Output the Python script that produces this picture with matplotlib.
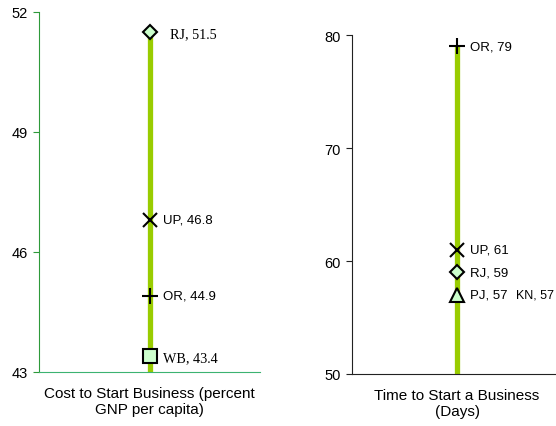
import matplotlib
matplotlib.use("Agg")
import matplotlib.pyplot as plt

# Cost to start a business (percent of GNP per capita)
cost_states = ["RJ", "UP", "OR", "WB"]
cost_values = [51.5, 46.8, 44.9, 43.4]
cost_markers = ["D", "x", "+", "s"]
cost_fonts = ["serif", "sans", "sans", "serif"]
cost_ticks = [43, 46, 49, 52]

# Time to start a business (days)
time_states = ["OR", "UP", "RJ", "PJ"]
time_values = [79, 61, 59, 57]
time_markers = ["+", "x", "D", "^"]
time_extra_state = "KN"
time_extra_value = 57
time_ticks = [50, 60, 70, 80]

SANS = "Liberation Sans"
SERIF = "Liberation Serif"
BAR = "#99cc00"
FACE = "#ccffcc"

# horizontal gap (points) between a marker and its serif label
SERIF_GAP = {"D": 15, "s": 9.5}
MARKER_SIZE = {"D": 7, "s": 10, "^": 10, "x": 10, "+": 11}

fig = plt.figure(figsize=(5.56, 4.27), dpi=100)


def draw_panel(ax, states, values, markers, fonts, ymin, ticks, label, axis_colors):
    ax.set_xlim(-1, 1)
    ax.set_ylim(ymin, ticks[-1])
    top = max(values)
    ax.plot([0, 0], [ymin, top], color=BAR, lw=3.8, solid_capstyle="butt", zorder=2)
    for st, v, m, f in zip(states, values, markers, fonts):
        size = MARKER_SIZE[m]
        if m in ("x", "+"):
            ax.plot([0], [v], marker=m, color="black", ms=size, mew=1.5, zorder=4,
                    clip_on=False)
        else:
            ax.plot([0], [v], marker=m, mfc=FACE, mec="black", ms=size, mew=1.5,
                    zorder=4, clip_on=False)
        if f == "serif":
            ax.annotate(f"{st}, {v:g}", (0, v), xytext=(SERIF_GAP[m], -1),
                        textcoords="offset points", va="center", ha="left",
                        family=SERIF, fontsize=10.2, zorder=5)
        else:
            ax.annotate(f"{st}, {v:g}", (0, v), xytext=(9.5, 0),
                        textcoords="offset points", va="center", ha="left",
                        family=SANS, fontsize=9.5, zorder=5)
    ax.set_yticks(ticks)
    ax.set_yticklabels([str(t) for t in ticks], family=SANS, fontsize=10.5)
    ax.set_xticks([])
    ax.set_xlabel(label, family=SANS, fontsize=11, labelpad=10, linespacing=1.2)
    for s in ("top", "right"):
        ax.spines[s].set_visible(False)
    ax.spines["left"].set_color(axis_colors[0])
    ax.spines["bottom"].set_color(axis_colors[1])
    ax.tick_params(axis="y", direction="out", length=4, color=axis_colors[0], pad=4)


ax1 = fig.add_axes([39 / 556, 1 - 373 / 427, 221 / 556, 360 / 427])
draw_panel(ax1, cost_states, cost_values, cost_markers, cost_fonts, 43, cost_ticks,
           "Cost to Start Business (percent\nGNP per capita)", ("#2e9a3a", "#3cb371"))

ax2 = fig.add_axes([352 / 556, 1 - 375 / 427, 210 / 556, 339 / 427])
draw_panel(ax2, time_states, time_values, time_markers, ["sans"] * 4, 50, time_ticks,
           "Time to Start a Business\n(Days)", ("#222222", "#222222"))
ax2.annotate(f"{time_extra_state}, {time_extra_value}", (0, time_extra_value),
             xytext=(42.5, 0), textcoords="offset points", va="center", ha="left",
             family=SANS, fontsize=9.0, annotation_clip=False)

fig.savefig("out.png", dpi=100)
